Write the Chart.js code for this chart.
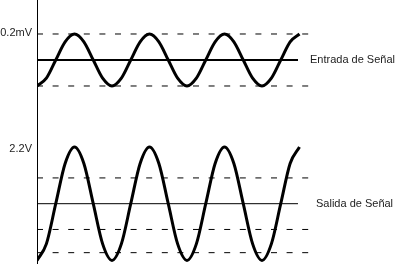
<!DOCTYPE html>
<html>
<head>
<meta charset="utf-8">
<script src="https://cdn.jsdelivr.net/npm/chart.js@4.4.1/dist/chart.umd.min.js"></script>
<style>
  html, body { margin: 0; padding: 0; background: #fff; }
  #contenedor { position: relative; width: 402px; height: 264px; }
  canvas { position: absolute; left: 0; display: block; }
</style>
</head>
<body>
<div id="contenedor">
  <canvas id="plot1" width="402" height="117" style="top:0"></canvas>
  <canvas id="plot2" width="402" height="147" style="top:117px"></canvas>
</div>
<script>
// Tiempo en periodos (muestras cada 1/8 de periodo)
let tiempo = [0, 0.125, 0.25, 0.375, 0.5, 0.625, 0.75, 0.875,
              1, 1.125, 1.25, 1.375, 1.5, 1.625, 1.75, 1.875,
              2, 2.125, 2.25, 2.375, 2.5, 2.625, 2.75, 2.875,
              3, 3.125, 3.25, 3.375, 3.5];

// Señal de entrada [mV]
let entrada = [-0.2, -0.14, 0, 0.14, 0.2, 0.14, 0, -0.14,
               -0.2, -0.14, 0, 0.14, 0.2, 0.14, 0, -0.14,
               -0.2, -0.14, 0, 0.14, 0.2, 0.14, 0, -0.14,
               -0.2, -0.14, 0, 0.14, 0.2];

// Señal de salida [V]
let salida = [-2.2, -1.56, 0, 1.56, 2.2, 1.56, 0, -1.56,
              -2.2, -1.56, 0, 1.56, 2.2, 1.56, 0, -1.56,
              -2.2, -1.56, 0, 1.56, 2.2, 1.56, 0, -1.56,
              -2.2, -1.56, 0, 1.56, 2.2];

// Niveles de referencia (líneas punteadas)
let nivelesEntrada = [0.2, -0.2];
let nivelesSalida = [1, -1, -1.9];

// Textos
let etiquetasIzq = ['0.2mV', '2.2V'];
let etiquetasDer = ['Entrada de Señal', 'Salida de Señal'];

let fuente = '11px "Liberation Sans", Arial, sans-serif';

// Plugin que escribe las etiquetas usando las escalas
let textos = {
  id: 'textos',
  afterDatasetsDraw(chart, args, opts) {
    let { ctx, chartArea, scales } = chart;
    ctx.save();
    ctx.font = fuente;
    ctx.fillStyle = '#222';
    ctx.textBaseline = 'middle';
    ctx.textAlign = 'right';
    ctx.fillText(opts.izquierda, chartArea.left - 5, scales.y.getPixelForValue(opts.nivel) + opts.dy);
    ctx.textAlign = 'left';
    ctx.fillText(opts.derecha, scales.x.getPixelForValue(opts.xDerecha), scales.y.getPixelForValue(0));
    ctx.restore();
  }
};

let puntos = (valores) => tiempo.map((t, i) => ({ x: t, y: valores[i] }));
let linea = (y, fin) => [{ x: 0, y: y }, { x: fin, y: y }];

let crearGrafico = (id, senal, niveles, anchoCentro, yMin, yMax, textoOpts) => {
  let datasets = [
    {
      data: puntos(senal),
      borderColor: '#000',
      borderWidth: 3,
      cubicInterpolationMode: 'monotone',
      pointRadius: 0
    },
    {
      data: linea(0, 3.48),
      borderColor: '#000',
      borderWidth: anchoCentro,
      pointRadius: 0
    }
  ];
  niveles.forEach(n => datasets.push({
    data: linea(n, 3.653),
    borderColor: '#000',
    borderWidth: 1,
    borderDash: [6, 9.6],
    pointRadius: 0
  }));

  return new Chart(document.getElementById(id), {
    type: 'line',
    data: { datasets: datasets },
    options: {
      responsive: false,
      animation: false,
      devicePixelRatio: 1,
      layout: { padding: { left: 37, right: 0, top: 0, bottom: 0 } },
      plugins: {
        legend: { display: false },
        tooltip: { enabled: false },
        textos: textoOpts
      },
      scales: {
        x: { type: 'linear', min: 0, max: 4.8667, display: false },
        y: {
          type: 'linear', min: yMin, max: yMax,
          grid: { display: false, drawTicks: false },
          ticks: { display: false },
          border: { display: true, color: '#000', width: 1 }
        }
      }
    },
    plugins: [textos]
  });
};

crearGrafico('plot1', entrada, nivelesEntrada, 2, -0.4385, 0.4615,
  { izquierda: etiquetasIzq[0], derecha: etiquetasDer[0], nivel: 0.2, dy: -1, xDerecha: 3.64 });
crearGrafico('plot2', salida, nivelesSalida, 1, -2.34, 3.364,
  { izquierda: etiquetasIzq[1], derecha: etiquetasDer[1], nivel: 2.2, dy: 1.5, xDerecha: 3.72 });
</script>
</body>
</html>
